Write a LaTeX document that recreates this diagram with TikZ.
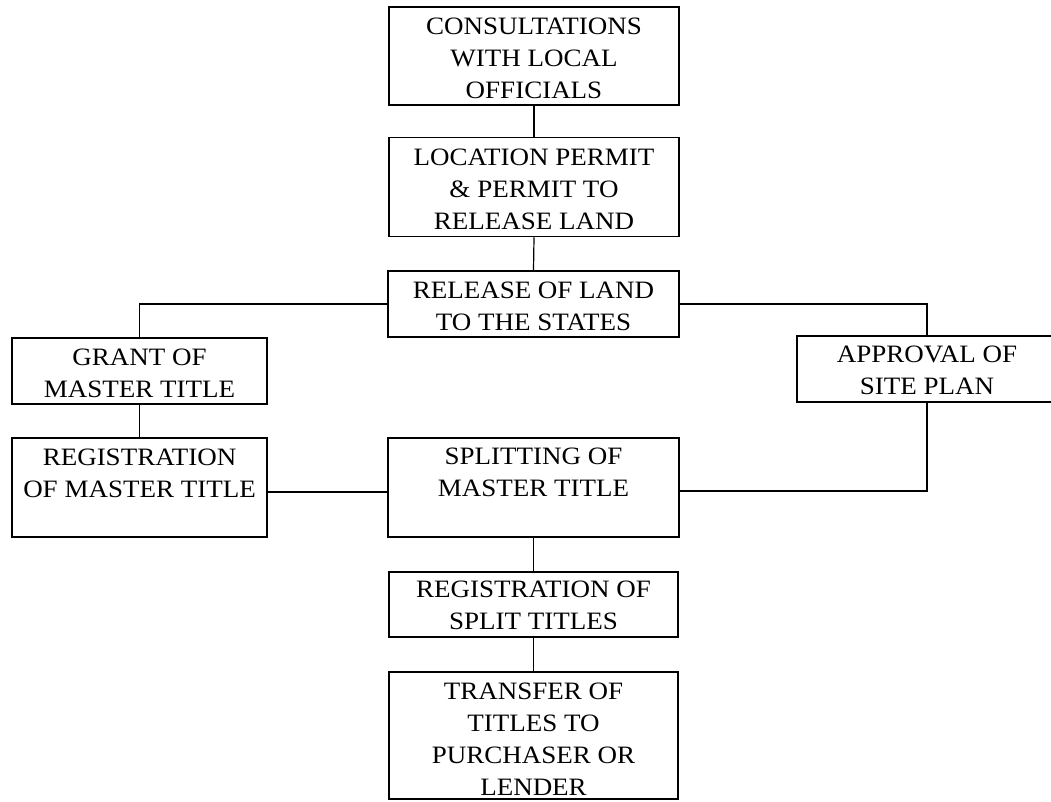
\documentclass[tikz,border=0pt]{standalone}
\usepackage{fontspec}
\setmainfont{Liberation Serif}[FakeStretch=1.08]
\begin{document}
\begin{tikzpicture}[x=1pt,y=-1pt,
  box/.style={draw, line width=1.5pt, rectangle, inner sep=0pt},
  lbl/.style={align=center, inner sep=0pt, anchor=north, font=\fontsize{25}{32}\selectfont},
  link/.style={line width=1.2pt}]
\useasboundingbox (0,0) rectangle (1051,801);
\clip (0,0) rectangle (1051,801);
% boxes
\node[box, minimum width=290, minimum height=98] (b1) at (534,56) {};
\node[box, minimum width=290, minimum height=99] (b2) at (534,187) {};
\node[box, minimum width=291, minimum height=66] (b3) at (533.5,304) {};
\node[box, minimum width=255, minimum height=66] (b4) at (139.5,371) {};
\node[box, minimum width=260, minimum height=66] (b5) at (927,369) {};
\node[box, minimum width=255, minimum height=99] (b6) at (139.5,487.5) {};
\node[box, minimum width=291, minimum height=99] (b7) at (533.5,487.5) {};
\node[box, minimum width=289, minimum height=65] (b8) at (533.5,604.5) {};
\node[box, minimum width=289, minimum height=127] (b9) at (533.5,735.5) {};
% labels
\node[lbl] (t1) at (534,17.5) {CONSULTATIONS\\WITH LOCAL\\OFFICIALS};
\node[lbl] (t2) at (534,148.5) {LOCATION PERMIT\\\& PERMIT TO\\RELEASE LAND};
\node[lbl] (t3) at (533.5,281.5) {RELEASE OF LAND\\TO THE STATES};
\node[lbl] (t4) at (139.5,348.5) {GRANT OF\\MASTER TITLE};
\node[lbl] (t5) at (927,345.5) {APPROVAL OF\\SITE PLAN};
\node[lbl] (t6) at (139.5,449) {REGISTRATION\\OF MASTER TITLE};
\node[lbl] (t7) at (533.5,447.5) {SPLITTING OF\\MASTER TITLE};
\node[lbl] (t8) at (533.5,580.5) {REGISTRATION OF\\SPLIT TITLES};
\node[lbl] (t9) at (533.5,682.5) {TRANSFER OF\\TITLES TO\\PURCHASER OR\\LENDER};
% connectors
\draw[link] (b1.south) -- (b2.north);
\draw[link] (b2.south) -- (b3.north);
\draw[link] (b3.west) -| (b4.north);
\draw[link] (b3.east) -| (b5.north);
\draw[link] (b4.south) -- (b6.north);
\draw[link] ([yshift=-4.5pt]b6.east) -- ([yshift=-4.5pt]b7.west);
\draw[link] (b5.south) |- ([yshift=-3.5pt]b7.east);
\draw[link] (b7.south) -- (b8.north);
\draw[link] (b8.south) -- (b9.north);
\end{tikzpicture}
\end{document}
